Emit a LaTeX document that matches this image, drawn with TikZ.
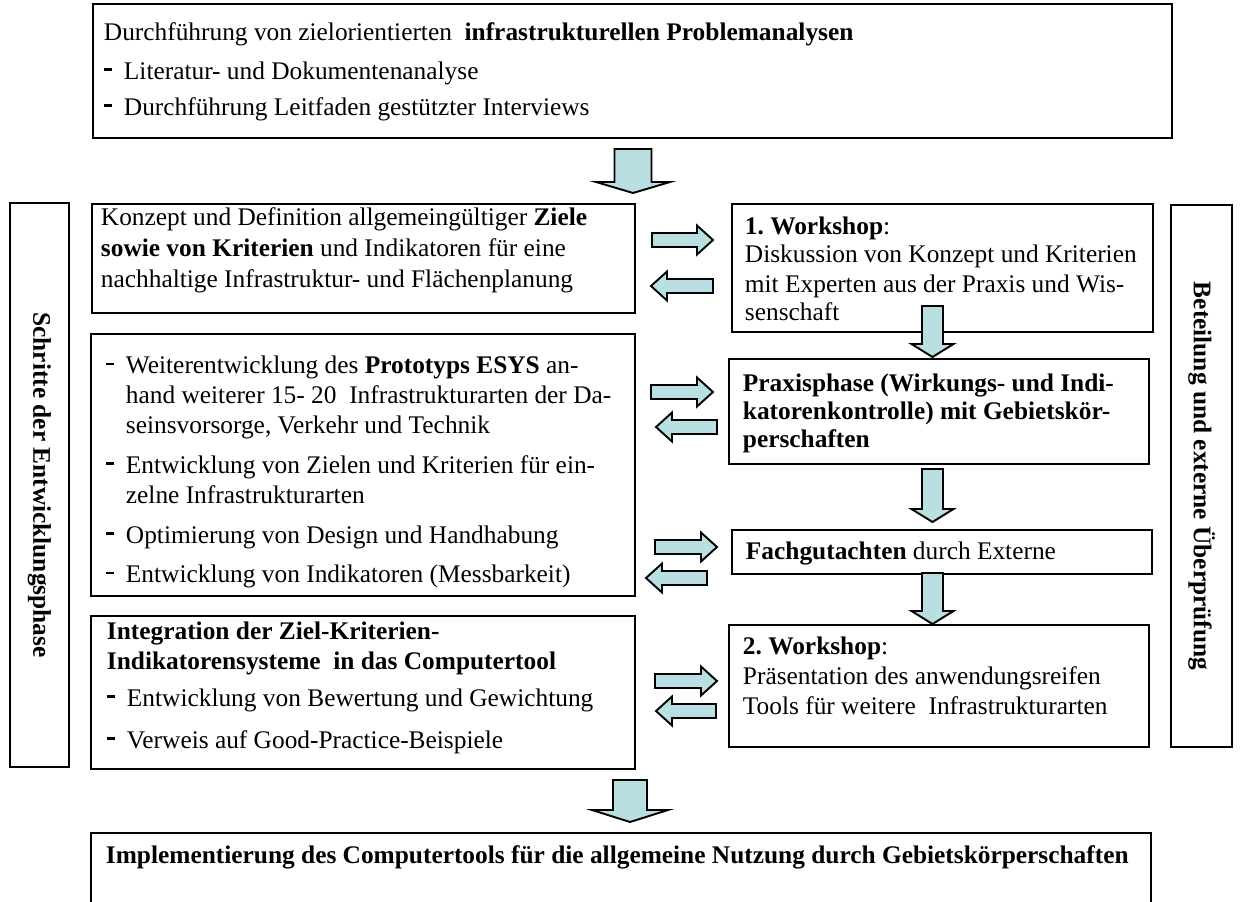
\documentclass[tikz,border=0pt]{standalone}
\usepackage{fontspec}
\setmainfont{Liberation Serif}
\usepackage{xcolor}
\frenchspacing

\newlength{\px}
\setlength{\px}{0.473pt}
\definecolor{arrowblue}{RGB}{185,223,226}

\newcommand{\bul}{\makebox[20\px][l]{\rule[8.5\px]{8\px}{2.8\px}}}
\newcommand{\hng}{\hspace*{20\px}}
\newcommand{\blockdown}[6]{%
  \draw[blk] (#1-#4,#2) -- (#1+#4,#2) -- (#1+#4,#3-#6) -- (#1+#5,#3-#6)
    -- (#1,#3) -- (#1-#5,#3-#6) -- (#1-#4,#3-#6) -- cycle;}
\newcommand{\blockright}[3]{%
  \draw[blk] (#1,#3-7) -- (#2-16,#3-7) -- (#2-16,#3-14.5) -- (#2,#3)
    -- (#2-16,#3+14.5) -- (#2-16,#3+7) -- (#1,#3+7) -- cycle;}
\newcommand{\blockleft}[3]{%
  \draw[blk] (#2,#3-7) -- (#1+16,#3-7) -- (#1+16,#3-14.5) -- (#1,#3)
    -- (#1+16,#3+14.5) -- (#1+16,#3+7) -- (#2,#3+7) -- cycle;}

\begin{document}
\begin{tikzpicture}[x=0.473pt,y=-0.473pt,font=\fontsize{12}{14.1}\selectfont,
  box/.style={draw,line width=.9pt,anchor=north west,align=flush left,inner ysep=0pt},
  vbox/.style={draw,line width=.9pt,rotate=-90,inner sep=0pt},
  blk/.style={draw,line width=.9pt,fill=arrowblue,line join=miter}]
  \useasboundingbox (0,0) rectangle (1241,901);
  \clip (0,0) rectangle (1241,901);

  \node[box,inner xsep=11\px,text width=1057\px,text height=37\px,text depth=97\px] (probl) at (92,3)
    {Durchführung von zielorientierten\ \ \textbf{infrastrukturellen Problemanalysen}\\[9\px]
     \bul Literatur- und Dokumentenanalyse\\[6\px]
     \bul Durchführung Leitfaden gestützter Interviews};

  \node[box,inner xsep=9\px,text width=525\px,text height=22\px,text depth=87\px] (konzept) at (91,203)
    {Konzept und Definition allgemeingültiger \textbf{Ziele}\\[1\px]
     \textbf{sowie von Kriterien} und Indikatoren für eine\\[1\px]
     nachhaltige Infrastruktur- und Flächenplanung};
  \node[box,inner xsep=15\px,text width=514\px,text height=40\px,text depth=222\px] (proto) at (90,333)
    {\bul Weiterentwicklung des \textbf{Prototyps ESYS} an-\\
     \hng hand weiterer 15- 20\ \ Infrastrukturarten der Da-\\
     \hng seinsvorsorge, Verkehr und Technik\\[10\px]
     \bul Entwicklung von Zielen und Kriterien für ein-\\
     \hng zelne Infrastrukturarten\\[10\px]
     \bul Optimierung von Design und Handhabung\\[10\px]
     \bul Entwicklung von Indikatoren (Messbarkeit)};
  \node[box,inner xsep=16\px,text width=512\px,text height=24\px,text depth=129\px] (integr) at (90,615)
    {\textbf{Integration der Ziel-Kriterien-}\\
     \textbf{Indikatorensysteme\ \ in das Computertool}\\[7\px]
     \bul Entwicklung von Bewertung und Gewichtung\\[12\px]
     \bul Verweis auf Good-Practice-Beispiele};

  \node[box,inner xsep=13\px,text width=395\px,text height=31\px,text depth=97\px] (ws1) at (731,203)
    {\textbf{1. Workshop}:\\[-2\px]
     Diskussion von Konzept und Kriterien\\
     mit Experten aus der Praxis und Wis-\\[-2\px]
     senschaft};
  \node[box,inner xsep=14\px,text width=392\px,text height=33\px,text depth=72\px] (praxis) at (728,358)
    {\bfseries Praxisphase (Wirkungs- und Indi-\\[-2\px]
     katorenkontrolle) mit Gebietskör-\\[-2\px]
     perschaften};
  \node[box,inner xsep=14\px,text width=392\px,text height=30\px,text depth=14\px] (gutacht) at (731,529)
    {\textbf{Fachgutachten} durch Externe};
  \node[box,inner xsep=14\px,text width=392\px,text height=30\px,text depth=92\px] (ws2) at (728,624)
    {\textbf{2. Workshop}:\\
     Präsentation des anwendungsreifen\\
     Tools für weitere\ \ Infrastrukturarten};

  \node[box,inner xsep=15\px,text width=1030\px,text height=31\px,text depth=47\px] (impl) at (90,832)
    {\textbf{Implementierung des Computertools für die allgemeine Nutzung durch Gebietskörperschaften}};

  \node[vbox,minimum width=564\px,minimum height=59\px] (schritte) at (39.5,485)
    {\bfseries Schritte der Entwicklungsphase};
  \node[vbox,minimum width=542\px,minimum height=61\px] (beteil) at (1201.5,476)
    {\bfseries Beteilung und externe Überprüfung};

  \blockdown{633}{149}{193}{18.5}{37}{11}
  \foreach \ya/\yb in {306/357,469/522,573/624} {
    \blockdown{932.5}{\ya}{\yb}{10.5}{21}{13}
  }
  \blockdown{630}{780}{822}{17}{38}{12}

  \foreach \xa/\xb/\yy in {652/713/240,651/713/392,655/717/547,655/717/681} {
    \blockright{\xa}{\xb}{\yy}
  }
  \foreach \xa/\xb/\yy in {651/713/286,656/717/427,646/707/578,656/716/711} {
    \blockleft{\xa}{\xb}{\yy}
  }
\end{tikzpicture}
\end{document}
